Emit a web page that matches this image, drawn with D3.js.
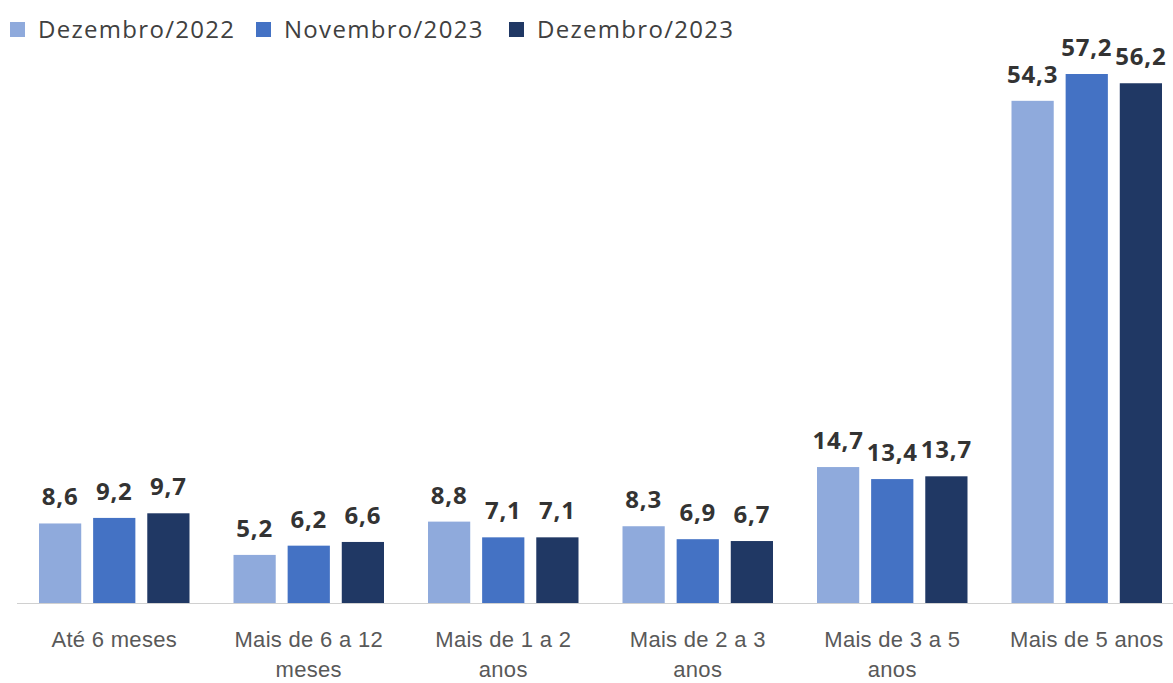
<!DOCTYPE html>
<html>
<head>
<meta charset="utf-8">
<script src="https://cdn.jsdelivr.net/npm/d3@7"></script>
<style>
  body { margin: 0; background: #fff; }
</style>
</head>
<body>
<div class="canvas"></div>
<script>
// data
const categories = ['Até 6 meses', 'Mais de 6 a 12 meses', 'Mais de 1 a 2 anos',
  'Mais de 2 a 3 anos', 'Mais de 3 a 5 anos', 'Mais de 5 anos'];
const categoryLines = [['Até 6 meses'], ['Mais de 6 a 12', 'meses'], ['Mais de 1 a 2', 'anos'],
  ['Mais de 2 a 3', 'anos'], ['Mais de 3 a 5', 'anos'], ['Mais de 5 anos']];
const seriesNames = ['Dezembro/2022', 'Novembro/2023', 'Dezembro/2023'];
const dez2022 = [8.6, 5.2, 8.8, 8.3, 14.7, 54.3];
const nov2023 = [9.2, 6.2, 7.1, 6.9, 13.4, 57.2];
const dez2023 = [9.7, 6.6, 7.1, 6.7, 13.7, 56.2];
const colors = ['#8faadc', '#4472c4', '#203864'];

const seriesValues = [dez2022, nov2023, dez2023];
const data = categories.map((c, i) => ({
  cat: c,
  vals: seriesNames.map((s, j) => ({ series: s, value: seriesValues[j][i] }))
}));

const width = 1173, height = 683;
const svg = d3.select('.canvas')
  .append('svg')
    .attr('width', width)
    .attr('height', height);

const baseY = 603;
const x = d3.scaleBand()
  .domain(categories)
  .range([17, 1184])
  .paddingInner(0)
  .paddingOuter(0);

const x1 = d3.scaleBand()
  .domain(seriesNames)
  .range([22, x.bandwidth() - 22])
  .paddingInner(0.22)
  .paddingOuter(0);

const y = d3.scaleLinear()
  .domain([0, 57.2])
  .range([baseY, 74]);

const color = d3.scaleOrdinal().domain(seriesNames).range(colors);

// bars
const groups = svg.selectAll('g.group')
  .data(data)
  .enter()
  .append('g')
    .attr('class', 'group')
    .attr('transform', d => `translate(${x(d.cat)}, 0)`);

groups.selectAll('rect')
  .data(d => d.vals)
  .enter()
  .append('rect')
    .attr('x', d => x1(d.series))
    .attr('y', d => y(d.value))
    .attr('width', x1.bandwidth())
    .attr('height', d => baseY - y(d.value))
    .attr('fill', d => color(d.series));

// value labels
groups.selectAll('text.val')
  .data(d => d.vals)
  .enter()
  .append('text')
    .attr('class', 'val')
    .attr('x', d => x1(d.series) + x1.bandwidth() / 2)
    .attr('y', d => y(d.value) - 18)
    .attr('text-anchor', 'middle')
    .attr('font-family', '"Open Sans", "DejaVu Sans", sans-serif')
    .attr('font-weight', 'bold')
    .attr('font-size', 24)
    .attr('letter-spacing', 0.8)
    .attr('fill', '#333')
    .text(d => d3.format('.1f')(d.value).replace('.', ','));

// x axis line
svg.append('line')
  .attr('x1', 17)
  .attr('x2', width)
  .attr('y1', baseY + 0.5)
  .attr('y2', baseY + 0.5)
  .attr('stroke', '#d0d0d0')
  .attr('stroke-width', 1);

// category labels
const catLabels = svg.selectAll('text.cat')
  .data(categories)
  .enter()
  .append('text')
    .attr('class', 'cat')
    .attr('text-anchor', 'middle')
    .attr('font-family', '"Liberation Sans", Arial, sans-serif')
    .attr('font-size', 22)
    .attr('letter-spacing', 0.3)
    .attr('fill', '#595959');

catLabels.selectAll('tspan')
  .data((d, i) => categoryLines[i].map(l => ({ line: l, cat: d })))
  .enter()
  .append('tspan')
    .attr('x', d => x(d.cat) + x.bandwidth() / 2)
    .attr('y', (d, i) => 647 + i * 30)
    .text(d => d.line);

// legend
const legend = svg.append('g')
  .attr('transform', 'translate(10, 0)');
const legendOffsets = [0, 246, 499];
const items = legend.selectAll('g')
  .data(seriesNames)
  .enter()
  .append('g')
    .attr('transform', (d, i) => `translate(${legendOffsets[i]}, 0)`);
items.append('rect')
  .attr('x', 0)
  .attr('y', 22)
  .attr('width', 15)
  .attr('height', 15)
  .attr('fill', d => color(d));
items.append('text')
  .attr('x', 28)
  .attr('y', 38)
  .attr('font-family', '"Open Sans", "DejaVu Sans", sans-serif')
  .attr('font-size', 24)
  .attr('letter-spacing', 1.3)
  .attr('fill', '#404040')
  .text(d => d);
</script>
</body>
</html>
